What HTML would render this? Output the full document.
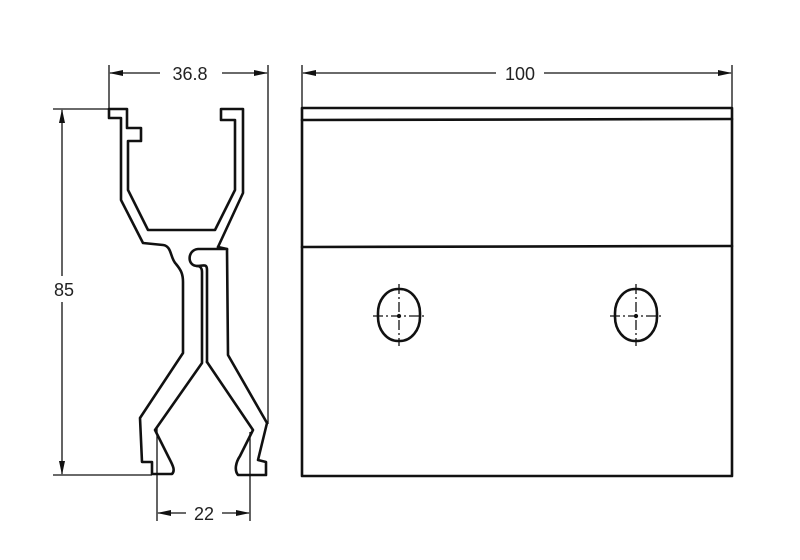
<!DOCTYPE html>
<html><head><style>body{margin:0;background:#fff}svg{display:block}text{font-family:"Liberation Sans",sans-serif;font-size:18px;fill:#222}</style></head>
<body>
<svg width="800" height="560" viewBox="0 0 800 560">
<defs><marker id="a" markerWidth="14" markerHeight="8" refX="13" refY="4" orient="auto" markerUnits="userSpaceOnUse"><path d="M0,1 L14,4 L0,7 Z" fill="#111"/></marker></defs>
<g fill="none" stroke="#111" stroke-width="2.6" stroke-linejoin="round" stroke-linecap="round">
<path d="M109,109 L127,109 L127,128 L141,128 L141,141 L128,141 L128,190 L148,230 L215,230 L235,190 L235,120 L221,120 L221,109 L243,109 L243,193 L218,247"/>
<path d="M109,109 L109,118 L121,118 L121,200 L143,243 L163,245 C172,246 170,258 176,264 C181,270 183,274 183,282 L183,353 L140,418 L142,462 L152,462 L152,474 L172,474 C176,470 172,464 168,456 L155,430 L202,363 L202,272 C202,268 200,266 197,266"/>
<path d="M227,249 L198,249 C187,250 187,266 197,266 C203,266 207,263 207,270 L207,362"/>
<path d="M218,247 L227,249 L228,355 L267,423 L258,460 L266,462 L266,475 L238,475 C234,470 236,462 240,456 L253,430 L207,362"/>
<rect x="302" y="108" width="430" height="368"/>
<line x1="302" y1="120" x2="732" y2="119"/>
<line x1="302" y1="247" x2="732" y2="246"/>
<rect x="378" y="289" width="42" height="52" rx="20" ry="24"/>
<rect x="615" y="289" width="42" height="52" rx="20" ry="24"/>
</g>
<g stroke="#111" stroke-width="1.3" fill="none">
<path d="M399,284 V346 M373,316 H425 M636,284 V346 M610,316 H662" stroke-dasharray="10,3,2,3"/>
<line x1="109" y1="65" x2="109" y2="109"/>
<line x1="268" y1="65" x2="268" y2="424"/>
<line x1="160" y1="73" x2="110" y2="73" marker-end="url(#a)"/>
<line x1="222" y1="73" x2="267" y2="73" marker-end="url(#a)"/>
<line x1="302" y1="65" x2="302" y2="108"/>
<line x1="732" y1="65" x2="732" y2="108"/>
<line x1="496" y1="73" x2="303" y2="73" marker-end="url(#a)"/>
<line x1="544" y1="73" x2="731" y2="73" marker-end="url(#a)"/>
<line x1="53" y1="109" x2="109" y2="109"/>
<line x1="53" y1="475" x2="152" y2="475"/>
<line x1="62" y1="276" x2="62" y2="110" marker-end="url(#a)"/>
<line x1="62" y1="302" x2="62" y2="474" marker-end="url(#a)"/>
<line x1="157" y1="428" x2="157" y2="521"/>
<line x1="250" y1="432" x2="250" y2="521"/>
<line x1="186" y1="513" x2="158" y2="513" marker-end="url(#a)"/>
<line x1="222" y1="513" x2="249" y2="513" marker-end="url(#a)"/>
<circle cx="399" cy="316" r="1.5" fill="#111"/><circle cx="636" cy="316" r="1.5" fill="#111"/>
</g>
<text x="190" y="80" text-anchor="middle">36.8</text>
<text x="520" y="80" text-anchor="middle">100</text>
<text x="64" y="296" text-anchor="middle">85</text>
<text x="204" y="520" text-anchor="middle">22</text>
</svg>
</body></html>
